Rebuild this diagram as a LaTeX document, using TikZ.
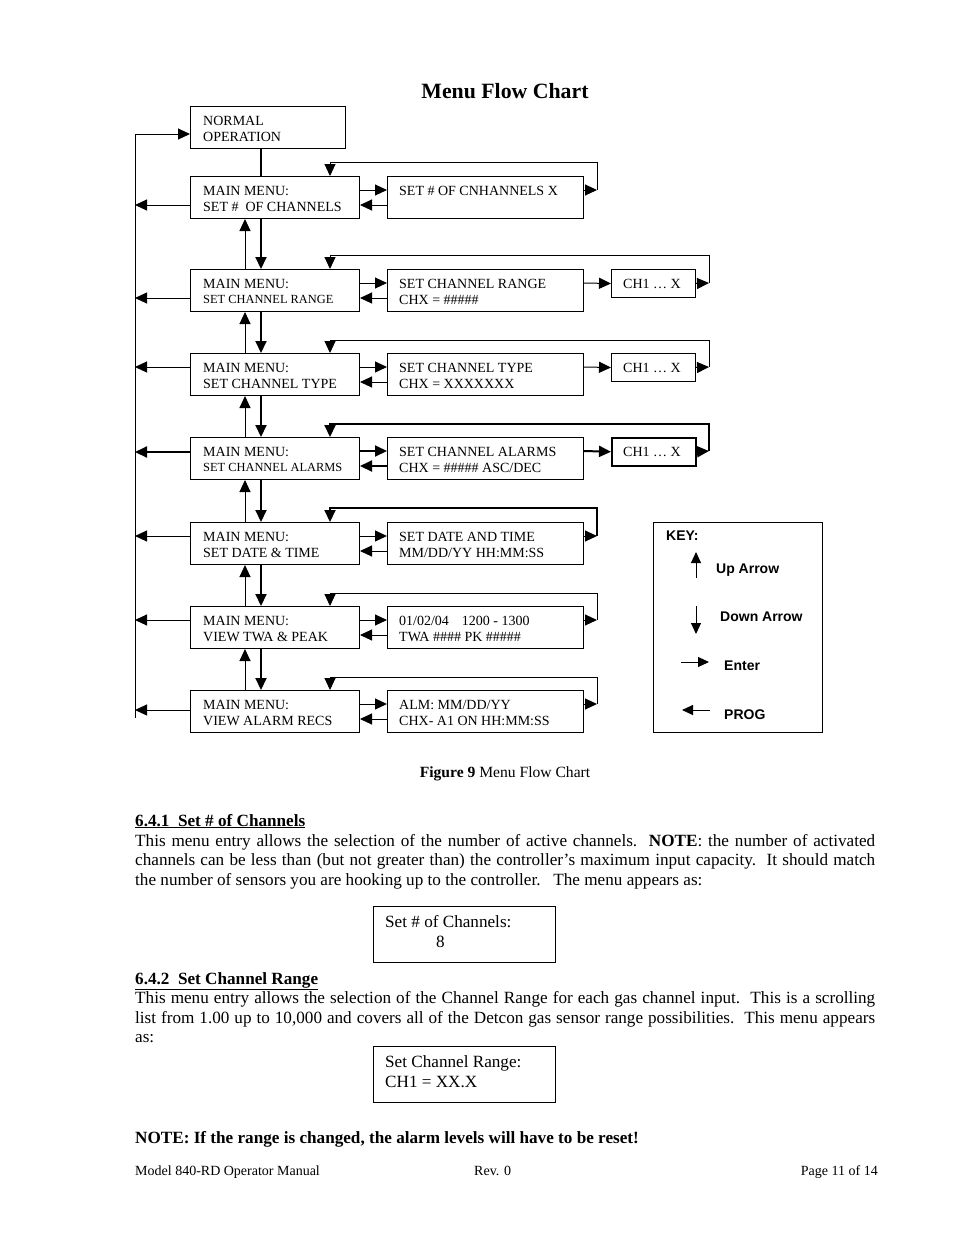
\documentclass[tikz,border=0pt]{standalone}
\usepackage{fontspec}
\setmainfont{Liberation Serif}
\newfontfamily\keyfont{Liberation Sans}
\usetikzlibrary{arrows.meta}
\begin{document}
\begin{tikzpicture}[x=1pt,y=-1pt,
  tip/.style={-{Triangle[length=12pt,width=11pt]}},
  ktip/.style={-{Triangle[length=11pt,width=10pt]}},
  lnA/.style={line width=1pt},
  lnB/.style={line width=2pt},
  box/.style={draw,line width=1pt,inner sep=0pt,anchor=north west,minimum height=42pt},
  mbox/.style={box,minimum width=169pt},
  sbox/.style={box,minimum width=196pt},
  cbox/.style={box,minimum width=84pt,minimum height=28pt},
  bt/.style={anchor=base west,inner sep=0pt,font=\fontsize{14}{16}\selectfont},
  bs/.style={anchor=base west,inner sep=0pt,font=\fontsize{12.4}{15}\selectfont},
  body/.style={anchor=base west,inner sep=0pt,font=\fontsize{17.15}{19.5}\selectfont},
  kt/.style={anchor=base west,inner sep=0pt,font=\keyfont\bfseries\fontsize{14}{16}\selectfont},
]
\useasboundingbox (0,0) rectangle (954,1235);

% title
\node[anchor=base,inner sep=0pt,font=\bfseries\fontsize{21.8}{24}\selectfont] (title) at (505,98) {Menu Flow Chart};

% normal operation
\node[box,minimum width=155pt] (nrm) at (190,106) {};
\node[bt] (nrmA) at (203,125) {NORMAL};
\node[bt] (nrmB) at (203,141) {OPERATION};

% helper coordinates
\coordinate (lt) at (135,134);
\coordinate (lb) at (135,718);
\coordinate (ux) at (245,0);
\coordinate (dx) at (261,0);
\coordinate (kx) at (330,0);

% row 1
\node[mbox] (m1) at (190,176) {};
\node[bt] (m1a) at (203,195) {MAIN MENU:};
\node[bt] (m1b) at (203,211) {SET \#\ \ OF CHANNELS};
\node[sbox] (s1) at (387,176) {};
\node[bt] (s1a) at (399,195) {SET \# OF CNHANNELS X};
% row 2
\node[mbox] (m2) at (190,269) {};
\node[bt] (m2a) at (203,288) {MAIN MENU:};
\node[bs] (m2b) at (203,303) {SET CHANNEL RANGE};
\node[sbox] (s2) at (387,269) {};
\node[bt] (s2a) at (399,288) {SET CHANNEL RANGE};
\node[bt] (s2b) at (399,304) {CHX = \#\#\#\#\#};
\node[cbox] (c2) at (611,269) {};
\node[bt] (c2a) at (623,288) {CH1 … X};
% row 3
\node[mbox] (m3) at (190,353) {};
\node[bt] (m3a) at (203,372) {MAIN MENU:};
\node[bt] (m3b) at (203,388) {SET CHANNEL TYPE};
\node[sbox] (s3) at (387,353) {};
\node[bt] (s3a) at (399,372) {SET CHANNEL TYPE};
\node[bt] (s3b) at (399,388) {CHX = XXXXXXX};
\node[cbox] (c3) at (611,353) {};
\node[bt] (c3a) at (623,372) {CH1 … X};
% row 4
\node[mbox] (m4) at (190,437) {};
\node[bt] (m4a) at (203,456) {MAIN MENU:};
\node[bs] (m4b) at (203,471) {SET CHANNEL ALARMS};
\node[sbox] (s4) at (387,437) {};
\node[bt] (s4a) at (399,456) {SET CHANNEL ALARMS};
\node[bt] (s4b) at (399,472) {CHX = \#\#\#\#\# ASC/DEC};
\node[cbox,line width=1.5pt] (c4) at (611,437) {};
\node[bt] (c4a) at (623,456) {CH1 … X};
% row 5
\node[mbox] (m5) at (190,522) {};
\node[bt] (m5a) at (203,541) {MAIN MENU:};
\node[bt] (m5b) at (203,557) {SET DATE \& TIME};
\node[sbox] (s5) at (387,522) {};
\node[bt] (s5a) at (399,541) {SET DATE AND TIME};
\node[bt] (s5b) at (399,557) {MM/DD/YY HH:MM:SS};
% row 6
\node[mbox] (m6) at (190,606) {};
\node[bt] (m6a) at (203,625) {MAIN MENU:};
\node[bt] (m6b) at (203,641) {VIEW TWA \& PEAK};
\node[sbox] (s6) at (387,606) {};
\node[bt] (s6a) at (399,625) {01/02/04\hspace{13pt}1200 - 1300};
\node[bt] (s6b) at (399,641) {TWA \#\#\#\# PK \#\#\#\#\#};
% row 7
\node[mbox] (m7) at (190,690) {};
\node[bt] (m7a) at (203,709) {MAIN MENU:};
\node[bt] (m7b) at (203,725) {VIEW ALARM RECS};
\node[sbox] (s7) at (387,690) {};
\node[bt] (s7a) at (399,709) {ALM: MM/DD/YY};
\node[bt] (s7b) at (399,725) {CHX- A1 ON HH:MM:SS};

% left PROG line
\draw[lnA] (lb) -- (lt);
\draw[lnA,tip] (lt) -- (lt -| nrm.west);
\coordinate (l1) at (135,205);
\coordinate (l2) at (135,298);
\coordinate (l3) at (135,367);
\coordinate (l4) at (135,452);
\coordinate (l5) at (135,536);
\coordinate (l6) at (135,620);
\coordinate (l7) at (135,710);
\draw[lnA,tip] (l1 -| m1.west) -- (l1);
\draw[lnA,tip] (l2 -| m2.west) -- (l2);
\draw[lnA,tip] (l3 -| m3.west) -- (l3);
\draw[lnB,tip] (l4 -| m4.west) -- (l4);
\draw[lnA,tip] (l5 -| m5.west) -- (l5);
\draw[lnA,tip] (l6 -| m6.west) -- (l6);
\draw[lnA,tip] (l7 -| m7.west) -- (l7);

% normal -> main
\draw[lnB] (dx |- nrm.south) -- (dx |- m1.north);

% up / down arrows
\foreach \a/\b in {m1/m2,m2/m3,m3/m4,m4/m5,m5/m6,m6/m7}{
  \draw[lnA,tip] (ux |- \b.north) -- (ux |- \a.south);
  \draw[lnB,tip] (dx |- \a.south) -- (dx |- \b.north);
}

% enter / prog arrows
\foreach \i in {1,2,3,5,6,7}{
  \draw[lnA,tip] ([yshift=-14pt]m\i.north east) -- ([yshift=-14pt]s\i.north west);
  \draw[lnA,tip] ([yshift=-29pt]s\i.north west) -- ([yshift=-29pt]m\i.north east);
}
\draw[lnB,tip] ([yshift=-14pt]m4.north east) -- ([yshift=-14pt]s4.north west);
\draw[lnB,tip] ([yshift=-29pt]s4.north west) -- ([yshift=-29pt]m4.north east);

% to CH boxes
\draw[lnA,tip] ([yshift=-14pt]s2.north east) -- (c2.west);
\draw[lnA,tip] ([yshift=-14pt]s3.north east) -- (c3.west);
\draw[lnB,tip] ([yshift=-14pt]s4.north east) -- (c4.west);

% loops
\coordinate (e1) at (597,190); \coordinate (k1) at (330,162);
\coordinate (e2) at (709,283); \coordinate (k2) at (330,255);
\coordinate (e3) at (709,367); \coordinate (k3) at (330,340);
\coordinate (e4) at (709,451); \coordinate (k4) at (330,424);
\coordinate (e5) at (597,536); \coordinate (k5) at (330,508);
\coordinate (e6) at (597,620); \coordinate (k6) at (330,593);
\coordinate (e7) at (597,704); \coordinate (k7) at (330,677);

\draw[lnA,tip] ([yshift=-14pt]s1.north east) -- (e1);
\draw[lnA,tip] (e1) |- (k1) -- (k1 |- m1.north);
\draw[lnA,tip] (c2.east) -- (e2);
\draw[lnA,tip] (e2) |- (k2) -- (k2 |- m2.north);
\draw[lnA,tip] (c3.east) -- (e3);
\draw[lnA,tip] (e3) |- (k3) -- (k3 |- m3.north);
\draw[lnB,tip] (c4.east) -- (e4);
\draw[lnB,tip] (e4) |- (k4) -- (k4 |- m4.north);
\draw[lnA,tip] ([yshift=-14pt]s5.north east) -- (e5);
\draw[lnB,tip] (e5) |- (k5) -- (k5 |- m5.north);
\draw[lnA,tip] ([yshift=-14pt]s6.north east) -- (e6);
\draw[lnA,tip] (e6) |- (k6) -- (k6 |- m6.north);
\draw[lnA,tip] ([yshift=-14pt]s7.north east) -- (e7);
\draw[lnA,tip] (e7) |- (k7) -- (k7 |- m7.north);

% key
\node[box,minimum width=169pt,minimum height=210pt] (key) at (653,522) {};
\node[kt] (keyt) at (666,540) {KEY:};
\draw[lnA,ktip] (696,578) -- (696,552);
\node[kt] (kup) at (716,573) {Up Arrow};
\draw[lnA,ktip] (696,606) -- (696,634);
\node[kt] (kdn) at (720,621) {Down Arrow};
\draw[lnA,ktip] (681,662) -- (709,662);
\node[kt] (ken) at (724,670) {Enter};
\draw[lnA,ktip] (710,710) -- (682,710);
\node[kt] (kpr) at (724,719) {PROG};

% caption
\node[anchor=base,inner sep=0pt,font=\fontsize{15.6}{18}\selectfont] (cap) at (505,777) {\textbf{Figure 9} Menu Flow Chart};

% section 6.4.1
\node[body] (h1) at (135,826) {\underline{\textbf{6.4.1\ \ Set \# of Channels}}};
\node[body] (p1a) at (135,846) {\makebox[740pt][s]{This menu entry allows the selection of the number of active channels.\ \ \textbf{NOTE}: the number of activated}};
\node[body] (p1b) at (135,865.5) {\makebox[740pt][s]{channels can be less than (but not greater than) the controller’s maximum input capacity.\ \ It should match}};
\node[body] (p1c) at (135,885) {the number of sensors you are hooking up to the controller.\ \ \ The menu appears as:};
\node[draw,line width=1pt,inner sep=0pt,anchor=north west,minimum width=182pt,minimum height=56pt] (b1) at (373,906) {};
\node[body] (b1a) at (385,927) {Set \# of Channels:};
\node[body] (b1b) at (436,947) {8};

% section 6.4.2
\node[body] (h2) at (135,984) {\underline{\textbf{6.4.2\ \ Set Channel Range}}};
\node[body] (p2a) at (135,1003) {\makebox[740pt][s]{This menu entry allows the selection of the Channel Range for each gas channel input.\ \ This is a scrolling}};
\node[body] (p2b) at (135,1023) {\makebox[740pt][s]{list from 1.00 up to 10,000 and covers all of the Detcon gas sensor range possibilities.\ \ This menu appears}};
\node[body] (p2c) at (135,1042.5) {as:};
\node[draw,line width=1pt,inner sep=0pt,anchor=north west,minimum width=182pt,minimum height=56pt] (b2) at (373,1046) {};
\node[body] (b2a) at (385,1067) {Set Channel Range:};
\node[body] (b2b) at (385,1087) {CH1 = XX.X};

\node[body] (note) at (135,1143) {\textbf{NOTE: If the range is changed, the alarm levels will have to be reset!}};

% footer
\node[anchor=base west,inner sep=0pt,font=\fontsize{14}{16}\selectfont] (f1) at (135,1175) {Model 840-RD Operator Manual};
\node[anchor=base west,inner sep=0pt,font=\fontsize{14}{16}\selectfont] (f2) at (474,1175) {Rev. 0};
\node[anchor=base east,inner sep=0pt,font=\fontsize{14}{16}\selectfont] (f3) at (878,1175) {Page 11 of 14};
\end{tikzpicture}
\end{document}
